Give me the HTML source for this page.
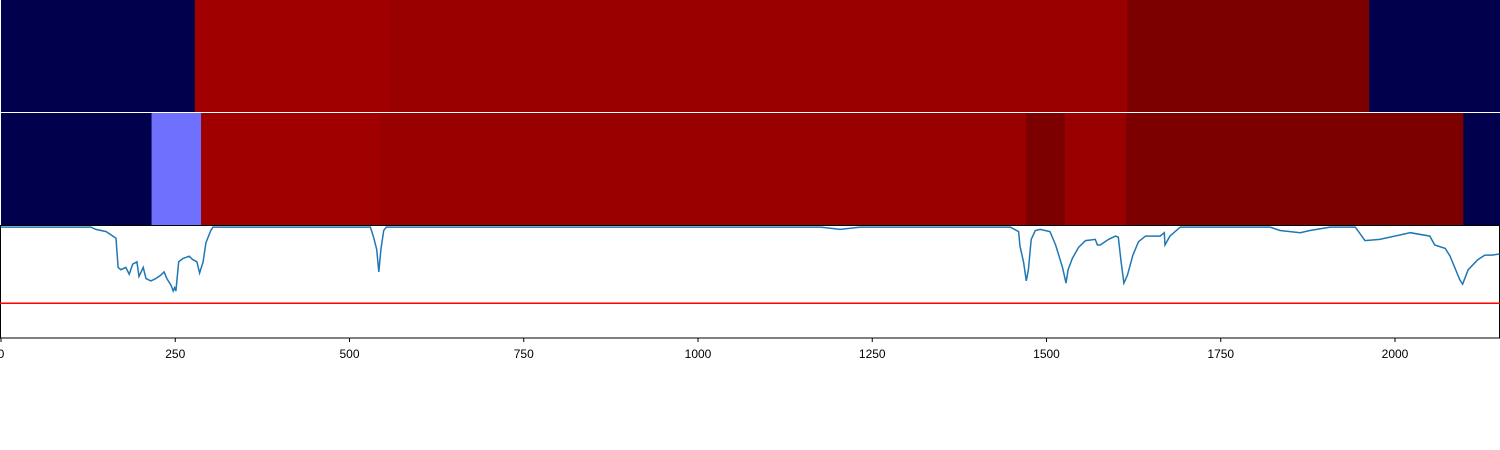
<!DOCTYPE html>
<html><head><meta charset="utf-8"><style>
html,body{margin:0;padding:0;background:#fff;width:1500px;height:450px;overflow:hidden}
text{font-family:"Liberation Sans","DejaVu Sans",sans-serif;font-size:12px}
</style></head><body>
<svg id="chart" width="1500" height="450" xmlns="http://www.w3.org/2000/svg"></svg>
<script>
const topStarts=[0,278,558,1616,1963];
const topEnds=[278,558,1616,1963,2150];
const topColors=["#00004c","#a00000","#990000","#7c0000","#00004c"];
const midStarts=[0,216,287,543,1471,1526,1614,2098];
const midEnds=[216,287,543,1471,1526,1614,2098,2150];
const midColors=["#00004c","#7070ff","#a00000","#990000","#7c0000","#990000","#7c0000","#00004c"];
const lineX=[0,129,136,151,165,168,172,179,184,189,195,198,204,208,215,222,229,234,238,244,247,249,251,255,261,270,275,281,285,290,294,301,304,530,535,539,542,545,549,553,1176,1204,1233,1448,1460,1462,1467,1471,1474,1478,1484,1491,1505,1513,1523,1528,1531,1537,1546,1556,1570,1573,1577,1589,1599,1603,1607,1611,1616,1624,1632,1642,1663,1669,1670,1677,1692,1821,1835,1864,1878,1907,1943,1957,1978,2007,2022,2050,2057,2072,2079,2093,2097,2105,2119,2129,2139,2150];
const lineY=[0.99,0.99,0.97,0.95,0.89,0.63,0.61,0.63,0.57,0.66,0.68,0.55,0.63,0.53,0.51,0.53,0.56,0.59,0.53,0.47,0.42,0.45,0.42,0.68,0.71,0.73,0.70,0.68,0.58,0.68,0.85,0.96,0.99,0.99,0.89,0.79,0.59,0.79,0.96,0.99,0.99,0.97,0.99,0.99,0.95,0.82,0.68,0.51,0.61,0.88,0.96,0.97,0.95,0.83,0.63,0.49,0.61,0.71,0.81,0.87,0.88,0.83,0.83,0.88,0.91,0.90,0.68,0.49,0.56,0.74,0.86,0.91,0.91,0.94,0.83,0.91,0.99,0.99,0.96,0.94,0.96,0.99,0.99,0.87,0.88,0.92,0.94,0.91,0.83,0.80,0.73,0.52,0.48,0.61,0.70,0.74,0.74,0.75];
const threshold=[0.31];
const ticks=[0,250,500,750,1000,1250,1500,1750,2000];
const NS="http://www.w3.org/2000/svg";
const svg=document.getElementById('chart');
const X=v=>1+v*(1394/2000);
const Y=v=>338-v*112;
function el(t,a){const e=document.createElementNS(NS,t);for(const k in a)e.setAttribute(k,a[k]);svg.appendChild(e);return e;}
for(let i=0;i<topStarts.length;i++){
 const r=el('rect',{x:X(topStarts[i]),y:0,width:X(topEnds[i])-X(topStarts[i])+0.5,height:112,fill:topColors[i]});
 
 
}
for(let i=0;i<midStarts.length;i++){
 const r=el('rect',{x:X(midStarts[i]),y:113,width:X(midEnds[i])-X(midStarts[i])+0.5,height:112,fill:midColors[i]});
 
 
}
const frame=el('rect',{x:0.5,y:225.5,width:1499,height:112.5,fill:'none',stroke:'#000','stroke-width':1});


const red=el('line',{x1:0,x2:1500,y1:Y(threshold[0]),y2:Y(threshold[0]),stroke:'#ff0000','stroke-width':1.5});


let d='';for(let i=0;i<lineX.length;i++)d+=(i?'L':'M')+X(lineX[i]).toFixed(1)+','+Y(lineY[i]).toFixed(1);
const p=el('path',{d:d,fill:'none',stroke:'#1f77b4','stroke-width':1.5});


for(const t of ticks){
 const tk=el('line',{x1:X(t),x2:X(t),y1:338,y2:342,stroke:'#000'});
 
 
 const tx=el('text',{x:X(t),y:358,'text-anchor':'middle'});
 tx.textContent=t;
 
 
}
</script>
</body></html>
